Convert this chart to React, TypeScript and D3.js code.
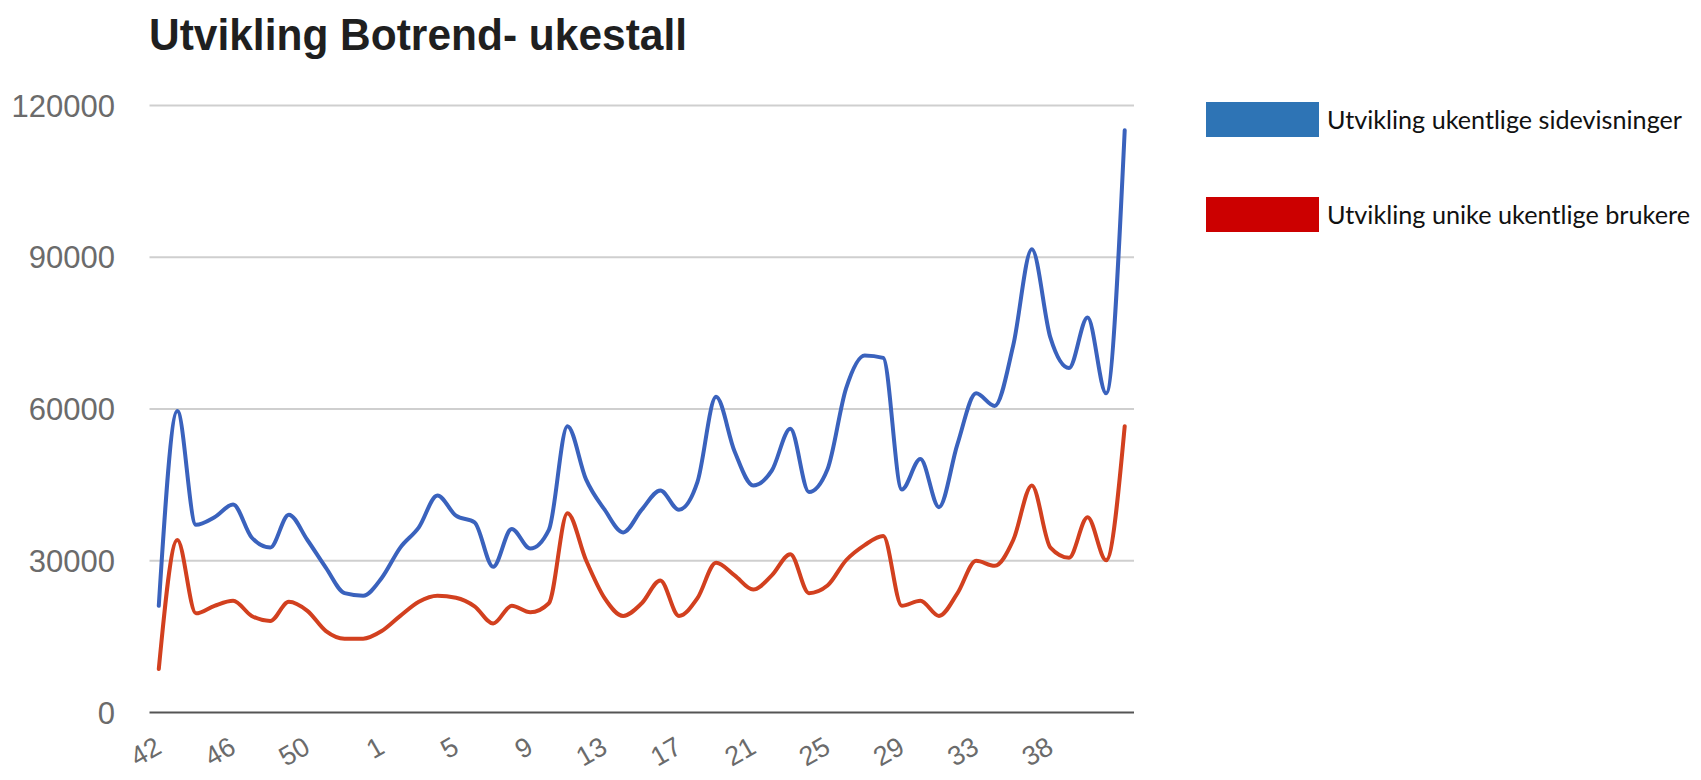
import { useEffect, useRef } from "react";
import * as d3 from "d3";

// week numbers on the category axis (week 37 is missing in the source data)
const WEEKS = [
  "42", "43", "44", "45", "46", "47", "48", "49", "50", "51", "52", "53",
  "1", "2", "3", "4", "5", "6", "7", "8", "9", "10", "11", "12",
  "13", "14", "15", "16", "17", "18", "19", "20", "21", "22", "23", "24",
  "25", "26", "27", "28", "29", "30", "31", "32", "33", "34", "35", "36",
  "38", "39", "40", "41", "42",
];

// weekly page views
const SIDEVISNINGER = [
  21000, 59500, 37000, 38500, 41000, 34500, 32500, 39000, 34000, 28500,
  23500, 23000, 26500, 32500, 36500, 42800, 38800, 37500, 28700, 36200,
  32300, 36000, 56500, 46000, 40000, 35500, 40000, 43800, 40000, 45500,
  62300, 51500, 44800, 47700, 56000, 43500, 48000, 64000, 70500, 70000,
  44000, 50000, 40500, 53000, 63000, 60500, 72500, 91500, 74000, 68000,
  78000, 63000, 115000,
];

// weekly unique users
const BRUKERE = [
  8500, 34000, 19500, 21000, 22000, 19000, 18000, 21800, 20000, 16000,
  14500, 14500, 16000, 19000, 21800, 23000, 22600, 20900, 17500, 21000,
  19700, 21500, 39300, 30000, 22500, 19000, 21500, 26000, 19000, 22500,
  29500, 27000, 24200, 27000, 31200, 23500, 25000, 30000, 33000, 34800,
  21000, 22000, 19000, 23500, 29900, 28900, 34000, 44800, 32500, 30500,
  38500, 30000, 56500,
];

const Y_TICKS = [0, 30000, 60000, 90000, 120000];
const LEGEND_LABELS = [
  "Utvikling ukentlige sidevisninger",
  "Utvikling unike ukentlige brukere",
];
const TITLE = "Utvikling Botrend- ukestall";

const LINE_COLOURS = ["#3a62bd", "#d2401f"];
const KEY_COLOURS = ["#2e74b5", "#cc0000"];

const W = 1701;
const H = 780;
const plot = { left: 149.5, right: 1134, top: 105, bottom: 712 };

const App = () => {
  const svgRef = useRef<SVGSVGElement>(null);

  useEffect(() => {
    const svg = d3.select(svgRef.current);
    svg.selectAll("*").remove();

    const idx = d3.range(WEEKS.length);
    const xScale = d3
      .scalePoint<number>()
      .domain(idx)
      .range([plot.left, plot.right])
      .padding(0.5);
    const yScale = d3
      .scaleLinear()
      .domain([0, 120000])
      .range([plot.bottom, plot.top]);

    // y axis: labels + gridlines
    const yAxis = d3
      .axisLeft(yScale)
      .tickValues(Y_TICKS)
      .tickSize(-(plot.right - plot.left))
      .tickPadding(plot.left - 115)
      .tickFormat((d) => String(d));
    const yg = svg
      .append("g")
      .attr("transform", `translate(${plot.left},0)`)
      .call(yAxis);
    yg.select(".domain").remove();
    yg.selectAll(".tick line")
      .attr("stroke", (d) => (d === 0 ? "#555" : "#cfcfcf"))
      .attr("stroke-width", 2);
    yg.selectAll(".tick text")
      .attr("font-family", "'Liberation Sans', Arial, sans-serif")
      .attr("font-size", 31)
      .attr("fill", "#6b6b6b")
      .attr("dy", "0.36em");

    // x axis: slanted week labels every 4th week (last week not labelled)
    const xAxis = d3
      .axisBottom(xScale)
      .tickValues(idx.filter((i) => i % 4 === 0 && i < WEEKS.length - 1))
      .tickFormat((i) => WEEKS[i as number])
      .tickSize(0);
    const xg = svg
      .append("g")
      .attr("transform", `translate(0,${plot.bottom})`)
      .call(xAxis);
    xg.select(".domain").remove();
    xg.selectAll(".tick text")
      .attr("font-family", "'Liberation Sans', Arial, sans-serif")
      .attr("font-size", 27)
      .attr("fill", "#6b6b6b")
      .attr("text-anchor", "end")
      .attr("x", 0)
      .attr("y", 0)
      .attr("dy", 0)
      .attr("transform", "translate(4,40) rotate(-30)");

    // lines
    const line = d3
      .line<number>()
      .x((_, i) => xScale(i) as number)
      .y((d) => yScale(d))
      .curve(d3.curveMonotoneX);

    svg
      .append("g")
      .selectAll("path")
      .data([SIDEVISNINGER, BRUKERE])
      .join("path")
      .attr("d", (d) => line(d))
      .attr("fill", "none")
      .attr("stroke", (_, i) => LINE_COLOURS[i])
      .attr("stroke-width", 4)
      .attr("stroke-linejoin", "round")
      .attr("stroke-linecap", "round");

    // title
    svg
      .append("text")
      .attr("x", 149)
      .attr("y", 50)
      .attr("font-family", "'Liberation Sans', Arial, sans-serif")
      .attr("font-weight", "bold")
      .attr("font-size", 45)
      .attr("fill", "#1f1f1f")
      .attr("textLength", 538)
      .attr("lengthAdjust", "spacingAndGlyphs")
      .text(TITLE);

    // legend
    const legend = svg
      .append("g")
      .selectAll("g")
      .data(LEGEND_LABELS)
      .join("g")
      .attr("transform", (_, i) => `translate(1206,${102 + i * 95})`);
    legend
      .append("rect")
      .attr("width", 113)
      .attr("height", 35)
      .attr("fill", (_, i) => KEY_COLOURS[i]);
    legend
      .append("text")
      .attr("x", 121)
      .attr("y", 27)
      .attr("font-family", "Lato, 'Open Sans', sans-serif")
      .attr("font-size", 25)
      .attr("fill", "#111")
      .attr("textLength", (_, i) => (i === 0 ? 355 : 363))
      .attr("lengthAdjust", "spacingAndGlyphs")
      .text((d) => d);
  }, []);

  return (
    <svg
      ref={svgRef}
      width={W}
      height={H}
      style={{ position: "absolute", left: 0, top: 0, background: "#fff" }}
    ></svg>
  );
};

export default App;
